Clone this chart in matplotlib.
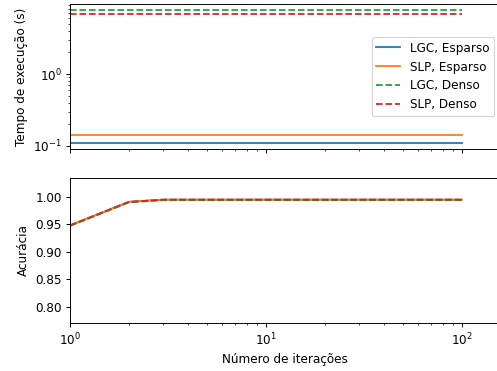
import matplotlib
matplotlib.use("Agg")
import matplotlib.pyplot as plt

iteracoes = [1, 2, 3, 4, 5, 10, 20, 50, 100]
tempo_lgc_esparso = [0.11] * len(iteracoes)
tempo_slp_esparso = [0.142] * len(iteracoes)
tempo_lgc_denso = [7.75] * len(iteracoes)
tempo_slp_denso = [6.8] * len(iteracoes)

acc_lgc_esparso = [0.948, 0.991, 0.995, 0.995, 0.995, 0.995, 0.995, 0.995, 0.995]
acc_slp_esparso = [0.948, 0.991, 0.995, 0.995, 0.995, 0.995, 0.995, 0.995, 0.995]
acc_lgc_denso = [0.947, 0.990, 0.994, 0.994, 0.994, 0.994, 0.994, 0.994, 0.994]
acc_slp_denso = [0.948, 0.991, 0.995, 0.995, 0.995, 0.995, 0.995, 0.995, 0.995]

DPI = 86
W, H = 498, 371
fig = plt.figure(figsize=(W / DPI, H / DPI), dpi=DPI)

def ax_rect(left, right, top, bottom):
    return [left / W, 1 - bottom / H, (right - left) / W, (bottom - top) / H]

ax1 = fig.add_axes(ax_rect(70, 500, 4, 149))
ax2 = fig.add_axes(ax_rect(70, 500, 178, 323), sharex=ax1)

ax1.plot(iteracoes, tempo_lgc_esparso, color="C0", label="LGC, Esparso")
ax1.plot(iteracoes, tempo_slp_esparso, color="C1", label="SLP, Esparso")
ax1.plot(iteracoes, tempo_lgc_denso, color="C2", ls="--", label="LGC, Denso")
ax1.plot(iteracoes, tempo_slp_denso, color="C3", ls="--", label="SLP, Denso")
ax1.set_xscale("log")
ax1.set_yscale("log")
ax1.set_ylim(0.0908, 9.4)
ax1.set_ylabel("Tempo de execução (s)")
ax1.legend(loc="center right")
ax1.tick_params(labelbottom=False)

ax2.plot(iteracoes, acc_lgc_esparso, color="C0")
ax2.plot(iteracoes, acc_slp_esparso, color="C1")
ax2.plot(iteracoes, acc_lgc_denso, color="C2", ls="--")
ax2.plot(iteracoes, acc_slp_denso, color="C3", ls="--")
ax2.set_ylim(0.770, 1.0345)
ax2.set_yticks([0.80, 0.85, 0.90, 0.95, 1.00])
ax2.set_ylabel("Acurácia")
ax2.set_xlabel("Número de iterações")
ax2.set_xlim(1, 157)

fig.savefig("out.png", dpi=DPI)
